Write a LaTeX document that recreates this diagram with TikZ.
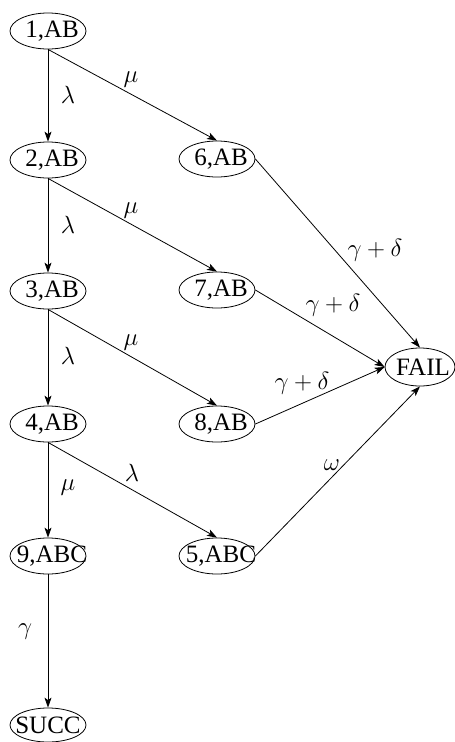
\documentclass[tikz,border=0pt]{standalone}
\usepackage{fontspec}
\setmainfont{Liberation Serif}
\usetikzlibrary{arrows.meta,shapes.geometric}
\newcommand{\nlab}[2][8pt]{\makebox[0pt]{\hspace*{#1}#2}}
\tikzset{
  st/.style={ellipse, draw, line width=0.8pt, inner sep=0pt, minimum width=76pt, minimum height=36pt,
    font=\fontsize{25}{29}\selectfont},
  arr/.style={draw, line width=0.8pt, -{Stealth[length=10pt,width=7pt,inset=2.5pt]}},
  lbl/.style={inner sep=0pt, font=\fontsize{23}{27}\selectfont}
}
\begin{document}
\begin{tikzpicture}[x=1pt,y=-1pt]
\useasboundingbox (0,0) rectangle (455,742);
\node[st] (n1) at (48,31) {\nlab{1,AB}};
\node[st] (n2) at (48,160) {\nlab{2,AB}};
\node[st] (n3) at (48,291) {\nlab{3,AB}};
\node[st] (n4) at (48,424) {\nlab{4,AB}};
\node[st] (n9) at (48,556) {\nlab{9,ABC}};
\node[st, minimum height=34pt] (succ) at (48,725) {\nlab[0pt]{SUCC}};
\node[st] (n6) at (217,159) {\nlab{6,AB}};
\node[st] (n7) at (217,290) {\nlab{7,AB}};
\node[st] (n8) at (217,424) {\nlab{8,AB}};
\node[st] (n5) at (217,556) {\nlab{5,ABC}};
\node[st, minimum width=70pt, minimum height=38pt] (fail) at (420,367) {\nlab[6pt]{FAIL}};

\draw[arr] (n1.south) -- (n2.north) node[lbl, at={(68,95)}] {$\lambda$};
\draw[arr] (n2.south) -- (n3.north) node[lbl, at={(68,225)}] {$\lambda$};
\draw[arr] (n3.south) -- (n4.north) node[lbl, at={(68,356)}] {$\lambda$};
\draw[arr] (n4.south) -- (n9.north) node[lbl, at={(68,488)}] {$\mu$};
\draw[arr] (n9.south) -- (succ.north) node[lbl, at={(25,632)}] {$\gamma$};

\draw[arr] (n1.south) -- (n6.north) node[lbl, at={(131,80)}] {$\mu$};
\draw[arr] (n2.south) -- (n7.north) node[lbl, at={(131,211)}] {$\mu$};
\draw[arr] (n3.south) -- (n8.north) node[lbl, at={(131,343)}] {$\mu$};
\draw[arr] (n4.south) -- (n5.north) node[lbl, at={(132,473)}] {$\lambda$};

\draw[arr] (n6.east) -- (fail.north) node[lbl, at={(375,250)}] {$\gamma+\delta$};
\draw[arr] (n7.east) -- (fail.west) node[lbl, at={(333,305)}] {$\gamma+\delta$};
\draw[arr] (n8.east) -- (fail.west) node[lbl, at={(302,383)}] {$\gamma+\delta$};
\draw[arr] (n5.east) -- (fail.south) node[lbl, at={(332,465)}] {$\omega$};
\end{tikzpicture}
\end{document}
